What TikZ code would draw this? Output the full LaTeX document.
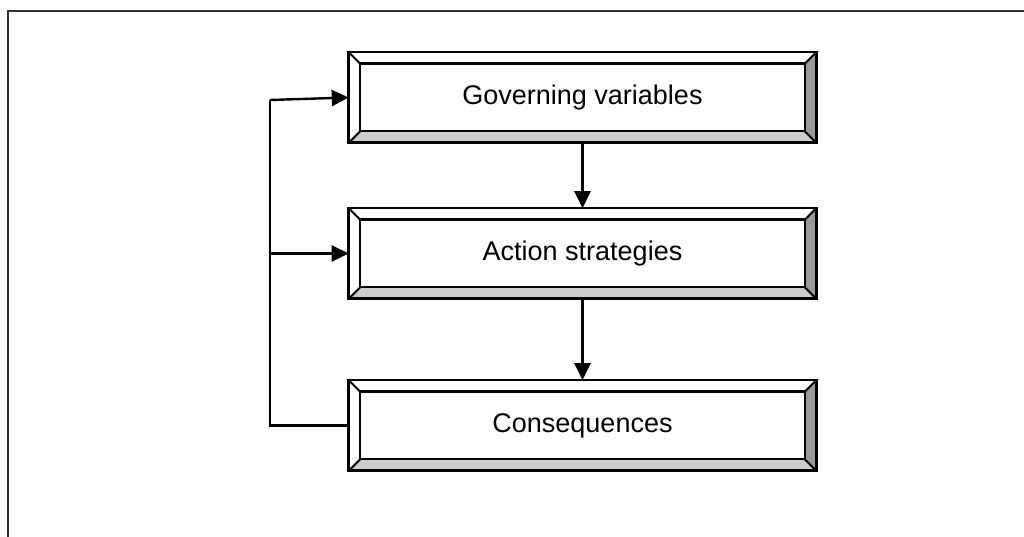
\documentclass[tikz,border=0pt]{standalone}
\usepackage{fontspec}
\setmainfont{Liberation Sans}
\usetikzlibrary{arrows.meta,calc}
\begin{document}
\begin{tikzpicture}[x=1pt,y=1pt,
  bevelbox/.style={draw, line width=2.6pt, minimum width=465pt, minimum height=88pt,
    inner sep=0pt, font=\fontsize{27}{32}\selectfont},
  link/.style={line width=2.4pt, -{Triangle[length=17pt,width=16pt]}},
  plain/.style={line width=2.4pt},
  frameline/.style={line width=2.4pt, draw=black!80}]
\useasboundingbox (0,0) rectangle (1024,537);
% page frame (top and left edges)
\draw[frameline] (8,0) -- (8,526) -- (1024,526);

% the three bevelled boxes
\node[bevelbox] (gov) at (582.5,439.5) {Governing variables};
\node[bevelbox] (act) at (582.5,283.5) {Action strategies};
\node[bevelbox] (con) at (582.5,111.5) {Consequences};

% bevel faces drawn over each box
\foreach \n in {gov,act,con}{
  \coordinate (o1) at (\n.north west);
  \coordinate (o2) at (\n.north east);
  \coordinate (o3) at (\n.south east);
  \coordinate (o4) at (\n.south west);
  \coordinate (i1) at ($(o1)+(11.5,-11.5)$);
  \coordinate (i2) at ($(o2)+(-11.5,-11.5)$);
  \coordinate (i3) at ($(o3)+(-11.5,11.5)$);
  \coordinate (i4) at ($(o4)+(11.5,11.5)$);
  \fill[white] (o1) -- (o2) -- (i2) -- (i1) -- cycle;
  \fill[white] (o1) -- (i1) -- (i4) -- (o4) -- cycle;
  \fill[black!20] (o4) -- (i4) -- (i3) -- (o3) -- cycle;
  \fill[black!40] (o2) -- (o3) -- (i3) -- (i2) -- cycle;
  \draw[line width=1.8pt] (o1) -- (i1) (o2) -- (i2) (o3) -- (i3) (o4) -- (i4);
  \draw[line width=2.4pt] (i1) rectangle (i3);
  \draw[line width=2.6pt] (o1) rectangle (o3);
}

% downward flow
\draw[link] (gov.south) -- (act.north);
\draw[link] (act.south) -- (con.north);

% feedback loop on the left
\coordinate (fbBottom) at (270,111.5);
\coordinate (fbMid) at (270,283.5);
\coordinate (fbTop) at (270,437);
\draw[plain] (con.west) -- (fbBottom) -- (fbTop);
\draw[link] (fbTop) -- (gov.west);
\draw[link] (fbMid) -- (act.west);
\end{tikzpicture}
\end{document}
